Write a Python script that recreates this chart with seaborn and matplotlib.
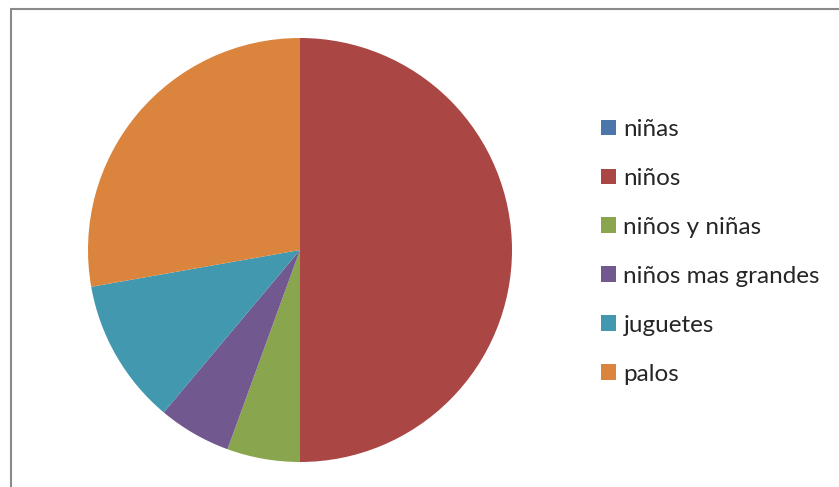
import matplotlib
matplotlib.use('Agg')
import matplotlib.pyplot as plt
import seaborn as sns
from matplotlib.lines import Line2D
from matplotlib.patches import Patch

categorias = ['niñas', 'niños', 'niños y niñas', 'niños mas grandes', 'juguetes', 'palos']
valores = [0, 9, 1, 1, 2, 5]
colores = ['#4A76AA', '#AA4643', '#89A54E', '#71588F', '#4198AF', '#DB843D']

sns.set_style('white')
plt.rcParams['font.family'] = ['Lato', 'DejaVu Sans']

W, H = 839, 487
fig = plt.figure(figsize=(W / 100, H / 100), dpi=100)

# pie centre ~ (300, 250), radius ~212 px
cx, cy, r = 300, 250, 212
ax = fig.add_axes([(cx - r) / W, (H - cy - r) / H, 2 * r / W, 2 * r / H])
wedges, _ = ax.pie(valores, colors=sns.color_palette(colores), startangle=90,
                   counterclock=False, radius=1,
                   wedgeprops={'linewidth': 0})
ax.set_xlim(-1, 1)
ax.set_ylim(-1, 1)
ax.set_aspect('equal')
ax.axis('off')

handles = [Patch(facecolor=c, edgecolor='none') for c in colores]
fig.legend(handles, categorias, loc='upper left',
           bbox_to_anchor=(601 / W, 1 - 119 / H), frameon=False,
           fontsize=17.5, handlelength=0.62, handleheight=0.62,
           handletextpad=0.3, labelspacing=1.15, borderaxespad=0,
           borderpad=0)

# outer frame (left and top edges visible)
fig.add_artist(Line2D([10.5 / W, 10.5 / W], [0, 1 - 8.5 / H], color='#8a8a8a', lw=1.5))
fig.add_artist(Line2D([10.5 / W, 1], [1 - 8.5 / H, 1 - 8.5 / H], color='#8a8a8a', lw=1.5))

fig.savefig('out.png', dpi=100)
